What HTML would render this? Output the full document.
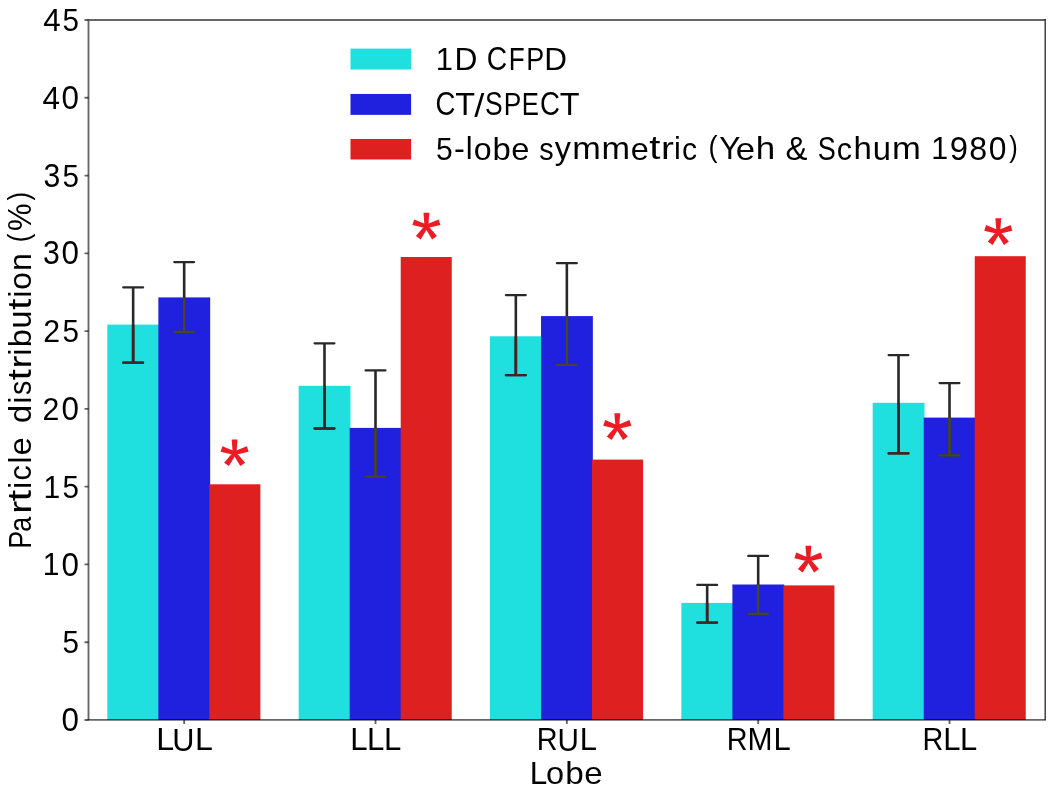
<!DOCTYPE html>
<html><head><meta charset="utf-8"><title>Particle distribution by lobe</title>
<style>html,body{margin:0;padding:0;background:#fff;overflow:hidden}svg{display:block}text{font-family:"Liberation Sans",sans-serif;fill:#000}</style>
</head><body>
<svg width="1050" height="793" viewBox="0 0 1050 793">
<rect x="0" y="0" width="1050" height="793" fill="#fff"/>
<g>
<rect x="107.33" y="324.60" width="51.82" height="395.40" fill="#20dfdf"/>
<rect x="158.36" y="297.40" width="51.82" height="422.60" fill="#2020df"/>
<rect x="209.38" y="484.30" width="51.02" height="235.70" fill="#df2020"/>
<rect x="298.67" y="385.80" width="51.82" height="334.20" fill="#20dfdf"/>
<rect x="349.70" y="427.90" width="51.82" height="292.10" fill="#2020df"/>
<rect x="400.72" y="257.00" width="51.02" height="463.00" fill="#df2020"/>
<rect x="490.01" y="336.30" width="51.82" height="383.70" fill="#20dfdf"/>
<rect x="541.04" y="316.10" width="51.82" height="403.90" fill="#2020df"/>
<rect x="592.06" y="459.60" width="51.02" height="260.40" fill="#df2020"/>
<rect x="681.35" y="602.90" width="51.82" height="117.10" fill="#20dfdf"/>
<rect x="732.38" y="584.50" width="51.82" height="135.50" fill="#2020df"/>
<rect x="783.40" y="585.40" width="51.02" height="134.60" fill="#df2020"/>
<rect x="872.69" y="402.80" width="51.82" height="317.20" fill="#20dfdf"/>
<rect x="923.72" y="417.60" width="51.82" height="302.40" fill="#2020df"/>
<rect x="974.74" y="256.20" width="51.02" height="463.80" fill="#df2020"/>
</g>
<g stroke="#282828" stroke-width="2.6" fill="none">
<path d="M133.15 287.40V362.70"/><path stroke-linecap="round" stroke-width="2.3" d="M123.25 287.40H143.05M123.25 362.70H143.05"/>
<path d="M184.17 262.10V331.80"/><path stroke-linecap="round" stroke-width="2.3" d="M174.27 262.10H194.07M174.27 331.80H194.07"/>
<path d="M324.49 343.30V428.50"/><path stroke-linecap="round" stroke-width="2.3" d="M314.59 343.30H334.39M314.59 428.50H334.39"/>
<path d="M375.51 370.40V476.60"/><path stroke-linecap="round" stroke-width="2.3" d="M365.61 370.40H385.41M365.61 476.60H385.41"/>
<path d="M515.83 295.10V375.20"/><path stroke-linecap="round" stroke-width="2.3" d="M505.93 295.10H525.73M505.93 375.20H525.73"/>
<path d="M566.85 263.20V364.80"/><path stroke-linecap="round" stroke-width="2.3" d="M556.95 263.20H576.75M556.95 364.80H576.75"/>
<path d="M707.17 584.90V622.60"/><path stroke-linecap="round" stroke-width="2.3" d="M697.27 584.90H717.07M697.27 622.60H717.07"/>
<path d="M758.19 555.90V613.80"/><path stroke-linecap="round" stroke-width="2.3" d="M748.29 555.90H768.09M748.29 613.80H768.09"/>
<path d="M898.51 355.10V453.40"/><path stroke-linecap="round" stroke-width="2.3" d="M888.61 355.10H908.41M888.61 453.40H908.41"/>
<path d="M949.53 383.10V455.40"/><path stroke-linecap="round" stroke-width="2.3" d="M939.63 383.10H959.43M939.63 455.40H959.43"/>
</g>
<clipPath id="bl">
<rect x="158.36" y="297.40" width="51.02" height="422.60"/>
<rect x="349.70" y="427.90" width="51.02" height="292.10"/>
<rect x="541.04" y="316.10" width="51.02" height="403.90"/>
<rect x="732.38" y="584.50" width="51.02" height="135.50"/>
<rect x="923.72" y="417.60" width="51.02" height="302.40"/>
</clipPath>
<g stroke="#48442f" stroke-width="2.6" fill="none" clip-path="url(#bl)">
<path d="M184.17 262.10V331.80"/><path stroke-linecap="round" stroke-width="2.3" d="M174.27 262.10H194.07M174.27 331.80H194.07"/>
<path d="M375.51 370.40V476.60"/><path stroke-linecap="round" stroke-width="2.3" d="M365.61 370.40H385.41M365.61 476.60H385.41"/>
<path d="M566.85 263.20V364.80"/><path stroke-linecap="round" stroke-width="2.3" d="M556.95 263.20H576.75M556.95 364.80H576.75"/>
<path d="M758.19 555.90V613.80"/><path stroke-linecap="round" stroke-width="2.3" d="M748.29 555.90H768.09M748.29 613.80H768.09"/>
<path d="M949.53 383.10V455.40"/><path stroke-linecap="round" stroke-width="2.3" d="M939.63 383.10H959.43M939.63 455.40H959.43"/>
</g>
<clipPath id="cy">
<rect x="107.33" y="324.60" width="51.02" height="395.40"/>
<rect x="298.67" y="385.80" width="51.02" height="334.20"/>
<rect x="490.01" y="336.30" width="51.02" height="383.70"/>
<rect x="681.35" y="602.90" width="51.02" height="117.10"/>
<rect x="872.69" y="402.80" width="51.02" height="317.20"/>
</clipPath>
<g stroke="#482222" stroke-width="2.6" fill="none" clip-path="url(#cy)">
<path d="M133.15 287.40V362.70"/><path stroke-linecap="round" stroke-width="2.3" d="M123.25 287.40H143.05M123.25 362.70H143.05"/>
<path d="M324.49 343.30V428.50"/><path stroke-linecap="round" stroke-width="2.3" d="M314.59 343.30H334.39M314.59 428.50H334.39"/>
<path d="M515.83 295.10V375.20"/><path stroke-linecap="round" stroke-width="2.3" d="M505.93 295.10H525.73M505.93 375.20H525.73"/>
<path d="M707.17 584.90V622.60"/><path stroke-linecap="round" stroke-width="2.3" d="M697.27 584.90H717.07M697.27 622.60H717.07"/>
<path d="M898.51 355.10V453.40"/><path stroke-linecap="round" stroke-width="2.3" d="M888.61 355.10H908.41M888.61 453.40H908.41"/>
</g>
<g stroke="#000" stroke-opacity="0.6" stroke-width="1.85" fill="none">
<path d="M88.5 719.85V20.0H1045.2"/><path d="M87.58 719.85H1045.90"/>
<path stroke-opacity="0.8" stroke-width="1.4" d="M1045.2 19.10V719.85"/>
<path d="M88.50 720.00h-4M88.50 642.22h-4M88.50 564.44h-4M88.50 486.67h-4M88.50 408.89h-4M88.50 331.11h-4M88.50 253.33h-4M88.50 175.56h-4M88.50 97.78h-4M88.50 20.00h-4M184.17 720.00v4M375.51 720.00v4M566.85 720.00v4M758.19 720.00v4M949.53 720.00v4"/>
</g>
<g fill="#ed1c24" stroke="none">
<path d="M236.30 454.70L237.55 439.40L231.65 439.40L232.90 454.70ZM233.70 455.28L248.64 451.74L246.81 446.13L232.65 452.05ZM232.34 452.99L240.32 466.10L245.10 462.63L235.09 450.99ZM234.11 450.99L224.10 462.63L228.88 466.10L236.86 452.99ZM236.55 452.05L222.39 446.13L220.56 451.74L235.50 455.28Z"/>
<path d="M428.10 228.00L429.35 212.70L423.45 212.70L424.70 228.00ZM425.50 228.58L440.44 225.04L438.61 219.43L424.45 225.35ZM424.14 226.29L432.12 239.40L436.90 235.93L426.89 224.29ZM425.91 224.29L415.90 235.93L420.68 239.40L428.66 226.29ZM428.35 225.35L414.19 219.43L412.36 225.04L427.30 228.58Z"/>
<path d="M619.00 428.60L620.25 413.30L614.35 413.30L615.60 428.60ZM616.40 429.18L631.34 425.64L629.51 420.03L615.35 425.95ZM615.04 426.89L623.02 440.00L627.80 436.53L617.79 424.89ZM616.81 424.89L606.80 436.53L611.58 440.00L619.56 426.89ZM619.25 425.95L605.09 420.03L603.26 425.64L618.20 429.18Z"/>
<path d="M810.10 561.10L811.35 545.80L805.45 545.80L806.70 561.10ZM807.50 561.68L822.44 558.14L820.61 552.53L806.45 558.45ZM806.14 559.39L814.12 572.50L818.90 569.03L808.89 557.39ZM807.91 557.39L797.90 569.03L802.68 572.50L810.66 559.39ZM810.35 558.45L796.19 552.53L794.36 558.14L809.30 561.68Z"/>
<path d="M1000.00 233.60L1001.25 218.30L995.35 218.30L996.60 233.60ZM997.40 234.18L1012.34 230.64L1010.51 225.03L996.35 230.95ZM996.04 231.89L1004.02 245.00L1008.80 241.53L998.79 229.89ZM997.81 229.89L987.80 241.53L992.58 245.00L1000.56 231.89ZM1000.25 230.95L986.09 225.03L984.26 230.64L999.20 234.18Z"/>
</g>
<rect x="350.5" y="48.60" width="60.6" height="20.9" fill="#20dfdf"/>
<rect x="350.5" y="93.95" width="60.6" height="20.9" fill="#2020df"/>
<rect x="350.5" y="139.00" width="60.6" height="20.5" fill="#df2020"/>
<g font-size="32.09" opacity="0.999">
<g aria-label="LUL">
<text transform="translate(156.36 750.40) scale(1.0018 0.9999)">L</text>
<text transform="translate(172.13 750.51) scale(0.9570 1.0050)">U</text>
<text transform="translate(195.09 750.40) scale(1.0018 0.9999)">L</text>
</g>
<g aria-label="LLL">
<text transform="translate(350.24 750.40) scale(0.9713 0.9999)">L</text>
<text transform="translate(367.12 750.40) scale(0.9713 0.9999)">L</text>
<text transform="translate(384.00 750.40) scale(0.9713 0.9999)">L</text>
</g>
<g aria-label="RUL">
<text transform="translate(536.83 750.40) scale(0.8987 0.9999)">R</text>
<text transform="translate(557.53 750.51) scale(0.9235 1.0050)">U</text>
<text transform="translate(579.68 750.40) scale(0.9667 0.9999)">L</text>
</g>
<g aria-label="RML">
<text transform="translate(726.74 750.40) scale(0.8980 0.9999)">R</text>
<text transform="translate(747.57 750.40) scale(0.9362 0.9999)">M</text>
<text transform="translate(773.49 750.40) scale(0.9660 0.9999)">L</text>
</g>
<g aria-label="RLL">
<text transform="translate(922.54 750.40) scale(0.8982 0.9999)">R</text>
<text transform="translate(943.30 750.40) scale(0.9662 0.9999)">L</text>
<text transform="translate(960.09 750.40) scale(0.9662 0.9999)">L</text>
</g>
<g aria-label="Lobe">
<text transform="translate(529.72 783.80) scale(0.9803 0.9999)">L</text>
<text transform="translate(546.12 783.92) scale(1.0130 0.9890)">o</text>
<text transform="translate(565.14 783.92) scale(1.0367 0.9944)">b</text>
<text transform="translate(584.20 783.92) scale(1.0292 0.9890)">e</text>
</g>
<g aria-label="1D">
<text transform="translate(435.64 69.60) scale(0.9636 0.9999)">1</text>
<text transform="translate(454.57 69.60) scale(0.9902 0.9999)">D</text>
</g>
<g aria-label="CFPD">
<text transform="translate(486.86 69.71) scale(0.8811 1.0080)">C</text>
<text transform="translate(508.71 69.60) scale(0.8136 0.9999)">F</text>
<text transform="translate(526.16 69.60) scale(0.8395 0.9999)">P</text>
<text transform="translate(544.15 69.60) scale(0.9820 0.9999)">D</text>
</g>
<g aria-label="CT/SPECT">
<text transform="translate(435.50 115.01) scale(0.8603 1.0080)">C</text>
<text transform="translate(455.18 114.90) scale(1.0108 0.9999)">T</text>
<text transform="translate(474.16 117.38) scale(1.1238 1.0559)">/</text>
<text transform="translate(484.94 115.01) scale(0.8261 1.0080)">S</text>
<text transform="translate(503.82 114.90) scale(0.8196 0.9999)">P</text>
<text transform="translate(521.80 114.90) scale(0.8032 0.9999)">E</text>
<text transform="translate(540.05 115.01) scale(0.8603 1.0080)">C</text>
<text transform="translate(559.73 114.90) scale(1.0108 0.9999)">T</text>
</g>
<g aria-label="5-lobe">
<text transform="translate(435.90 159.51) scale(0.9374 1.0050)">5</text>
<text transform="translate(454.03 159.35) scale(1.0157 0.9672)">-</text>
<text transform="translate(465.68 159.40) scale(0.9632 0.9894)">l</text>
<text transform="translate(473.63 159.52) scale(1.0017 0.9890)">o</text>
<text transform="translate(492.44 159.52) scale(1.0251 0.9944)">b</text>
<text transform="translate(511.29 159.52) scale(1.0177 0.9890)">e</text>
</g>
<g aria-label="symmetric">
<text transform="translate(539.20 159.52) scale(0.8989 0.9917)">s</text>
<text transform="translate(554.86 159.25) scale(1.0070 0.9680)">y</text>
<text transform="translate(572.31 159.40) scale(1.0684 0.9821)">m</text>
<text transform="translate(601.62 159.40) scale(1.0684 0.9821)">m</text>
<text transform="translate(630.76 159.52) scale(1.0128 0.9890)">e</text>
<text transform="translate(649.19 159.15) scale(1.2533 1.0126)">t</text>
<text transform="translate(660.96 159.40) scale(1.2014 0.9821)">r</text>
<text transform="translate(673.94 159.40) scale(0.9585 0.9894)">i</text>
<text transform="translate(681.90 159.52) scale(0.9409 0.9890)">c</text>
</g>
<g aria-label="(Yeh">
<text transform="translate(708.61 157.40) scale(0.8472 0.9021)">(</text>
<text transform="translate(719.32 159.40) scale(0.9889 0.9999)">Y</text>
<text transform="translate(735.76 159.52) scale(1.0826 0.9890)">e</text>
<text transform="translate(755.75 159.40) scale(1.0881 0.9894)">h</text>
</g>
<g aria-label="&amp;">
<text transform="translate(785.44 159.51) scale(1.0266 1.0171)">&amp;</text>
</g>
<g aria-label="Schum">
<text transform="translate(817.77 159.51) scale(0.8439 1.0080)">S</text>
<text transform="translate(836.66 159.52) scale(0.9499 0.9890)">c</text>
<text transform="translate(853.45 159.40) scale(1.0277 0.9894)">h</text>
<text transform="translate(872.69 159.51) scale(1.0206 1.0070)">u</text>
<text transform="translate(891.95 159.40) scale(1.0786 0.9821)">m</text>
</g>
<g aria-label="1980)">
<text transform="translate(931.28 159.40) scale(0.9472 0.9999)">1</text>
<text transform="translate(949.85 159.51) scale(1.0244 1.0080)">9</text>
<text transform="translate(969.35 159.51) scale(1.0025 1.0080)">8</text>
<text transform="translate(988.65 159.51) scale(0.9917 1.0080)">0</text>
<text transform="translate(1009.36 157.40) scale(0.8000 0.9021)">)</text>
</g>
<g aria-label="0">
<text transform="translate(61.56 731.11) scale(0.9789 1.0080)">0</text>
</g>
<g aria-label="5">
<text transform="translate(62.56 653.34) scale(0.9239 1.0050)">5</text>
</g>
<g aria-label="10">
<text transform="translate(42.85 575.44) scale(0.9349 0.9999)">1</text>
<text transform="translate(61.56 575.56) scale(0.9789 1.0080)">0</text>
</g>
<g aria-label="15">
<text transform="translate(43.47 497.67) scale(0.9349 0.9999)">1</text>
<text transform="translate(62.56 497.78) scale(0.9239 1.0050)">5</text>
</g>
<g aria-label="20">
<text transform="translate(42.52 419.89) scale(0.9436 1.0030)">2</text>
<text transform="translate(61.56 420.00) scale(0.9789 1.0080)">0</text>
</g>
<g aria-label="25">
<text transform="translate(43.15 342.11) scale(0.9436 1.0030)">2</text>
<text transform="translate(62.56 342.22) scale(0.9239 1.0050)">5</text>
</g>
<g aria-label="30">
<text transform="translate(42.98 264.45) scale(0.9401 1.0080)">3</text>
<text transform="translate(61.56 264.45) scale(0.9789 1.0080)">0</text>
</g>
<g aria-label="35">
<text transform="translate(43.61 186.67) scale(0.9401 1.0080)">3</text>
<text transform="translate(62.56 186.67) scale(0.9239 1.0050)">5</text>
</g>
<g aria-label="40">
<text transform="translate(42.59 108.78) scale(0.9790 0.9999)">4</text>
<text transform="translate(61.56 108.89) scale(0.9789 1.0080)">0</text>
</g>
<g aria-label="45">
<text transform="translate(43.22 31.00) scale(0.9790 0.9999)">4</text>
<text transform="translate(62.56 31.11) scale(0.9239 1.0050)">5</text>
</g>
<g aria-label="Particle">
<text transform="translate(31.00 548.81) rotate(-90) scale(0.8400 0.9999)">P</text>
<text transform="translate(31.12 531.91) rotate(-90) scale(0.8541 0.9890)">a</text>
<text transform="translate(31.00 513.73) rotate(-90) scale(1.2169 0.9821)">r</text>
<text transform="translate(30.75 501.17) rotate(-90) scale(1.2694 1.0126)">t</text>
<text transform="translate(31.00 488.63) rotate(-90) scale(0.9709 0.9894)">i</text>
<text transform="translate(31.12 480.57) rotate(-90) scale(0.9530 0.9890)">c</text>
<text transform="translate(31.00 463.42) rotate(-90) scale(0.9709 0.9894)">l</text>
<text transform="translate(31.12 455.45) rotate(-90) scale(1.0259 0.9890)">e</text>
</g>
<g aria-label="distribution">
<text transform="translate(31.12 422.97) rotate(-90) scale(1.0139 0.9944)">d</text>
<text transform="translate(31.00 403.48) rotate(-90) scale(0.9536 0.9894)">i</text>
<text transform="translate(31.12 395.11) rotate(-90) scale(0.8942 0.9917)">s</text>
<text transform="translate(30.75 380.14) rotate(-90) scale(1.2468 1.0126)">t</text>
<text transform="translate(31.00 368.43) rotate(-90) scale(1.1952 0.9821)">r</text>
<text transform="translate(31.00 355.52) rotate(-90) scale(0.9536 0.9894)">i</text>
<text transform="translate(31.12 347.35) rotate(-90) scale(1.0149 0.9944)">b</text>
<text transform="translate(31.11 328.52) rotate(-90) scale(1.0058 1.0070)">u</text>
<text transform="translate(30.75 309.80) rotate(-90) scale(1.2468 1.0126)">t</text>
<text transform="translate(31.00 297.49) rotate(-90) scale(0.9536 0.9894)">i</text>
<text transform="translate(31.12 289.63) rotate(-90) scale(0.9917 0.9890)">o</text>
<text transform="translate(31.00 271.05) rotate(-90) scale(1.0058 0.9821)">n</text>
</g>
<g aria-label="(%)">
<text transform="translate(29.00 242.30) rotate(-90) scale(0.8000 0.9021)">(</text>
<text transform="translate(31.24 230.93) rotate(-90) scale(0.9691 1.0200)">%</text>
<text transform="translate(29.00 200.45) rotate(-90) scale(0.8000 0.9021)">)</text>
</g>
</g>
</svg></body></html>
